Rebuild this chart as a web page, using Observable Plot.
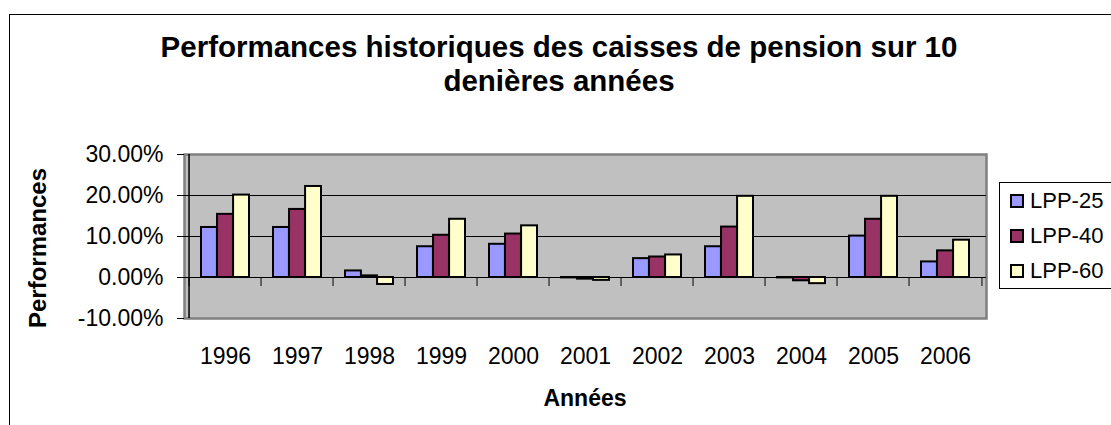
<!DOCTYPE html>
<html><head><meta charset="utf-8">
<script src="https://cdn.jsdelivr.net/npm/d3@7"></script>
<script src="https://cdn.jsdelivr.net/npm/@observablehq/plot@0.6"></script>
<style>
body{margin:0;background:#fff;font-family:"Liberation Sans",Arial,sans-serif;color:#000;}
#wrap{position:relative;width:1111px;height:425px;overflow:hidden;}
#border{position:absolute;left:9px;top:14px;width:1200px;height:500px;border:1px solid #000;}
#title{position:absolute;left:9px;width:1100px;top:30px;text-align:center;font-weight:bold;font-size:29.5px;line-height:34px;}
#chart{position:absolute;left:0;top:0;}
#ylabel{position:absolute;left:38px;top:248px;transform:translate(-50%,-50%) rotate(-90deg);font-weight:bold;font-size:24px;white-space:nowrap;line-height:24px;}
#xlabel{position:absolute;left:385px;width:400px;top:387px;text-align:center;font-weight:bold;font-size:23px;line-height:23px;}
#legend{position:absolute;left:999px;top:182px;width:130px;height:105px;border:1px solid #000;background:#fff;}
.row{position:absolute;left:0;height:35px;line-height:35px;font-size:22px;white-space:nowrap;}
.sw{position:absolute;left:10px;top:11px;width:10px;height:10px;border:2px solid #000;}
.lt{position:absolute;left:30px;top:0;}
</style></head><body>
<div id="wrap">
<div id="border"></div>
<div id="title">Performances historiques des caisses de pension sur 10<br>denières années</div>
<div id="chart"></div>
<div id="ylabel">Performances</div>
<div id="xlabel">Années</div>
<div id="legend"></div>
</div>
<script>
const years = ["1996","1997","1998","1999","2000","2001","2002","2003","2004","2005","2006"];
const series = ["LPP-25","LPP-40","LPP-60"];
const lpp25 = [0.122, 0.122, 0.016, 0.075, 0.081, -0.001, 0.046, 0.075, -0.001, 0.101, 0.038];
const lpp40 = [0.154, 0.166, 0.004, 0.103, 0.106, -0.004, 0.050, 0.123, -0.008, 0.142, 0.065];
const lpp60 = [0.201, 0.222, -0.017, 0.142, 0.126, -0.007, 0.055, 0.198, -0.015, 0.198, 0.091];
const colors = ["#9999ff","#993366","#ffffcc"];
const yTicks = [-0.1, 0, 0.1, 0.2, 0.3];

const values = [lpp25, lpp40, lpp60];
const rows = years.flatMap((y,i)=>series.map((s,j)=>({year:y, series:s, value:values[j][i]})));

const W=1111, H=425, mL=184, mR=125, mT=154, mB=107;
const pin=0.34, pout=0.17;
const step=(W-mL-mR)/(years.length - pin + 2*pout);
const bw=step*(1-pin), third=bw/3;

const bars = series.map((s,j)=>Plot.barY(rows.filter(d=>d.series===s), {
  x:"year", y:"value", fill:"series", stroke:"#000", strokeWidth:2,
  insetLeft:j*third, insetRight:(2-j)*third
}));

const chart = Plot.plot({
  width:W, height:H, marginLeft:mL, marginRight:mR, marginTop:mT, marginBottom:mB,
  style:{fontFamily:"Liberation Sans, Arial, sans-serif", fontSize:"23px", color:"#000", background:"transparent", overflow:"visible"},
  x:{type:"band", domain:years, paddingInner:pin, paddingOuter:pout},
  y:{domain:[-0.1,0.3]},
  color:{domain:series, range:colors},
  marks:[
    Plot.frame({fill:"#c0c0c0", stroke:"#808080", strokeWidth:2.5}),
    Plot.ruleY([0.1,0.2], {stroke:"#000", strokeWidth:1}),
    ...bars,
    Plot.ruleY([0], {stroke:"#000", strokeWidth:1}),
    Plot.ruleX(years, {x:d=>d, y1:0, y2:-0.022, dx:-step/2, stroke:"#000", strokeWidth:1}),
    Plot.ruleX([years[years.length-1]], {x:d=>d, y1:0, y2:-0.022, dx:step/2, stroke:"#000", strokeWidth:1}),
    Plot.ruleX([years[0]], {x:d=>d, y1:-0.1, y2:0.3, dx:-step/2, stroke:"#000", strokeWidth:1.5}),
    Plot.axisY({ticks:yTicks, tickFormat:d=>(d*100).toFixed(2)+"%", tickSize:7, tickPadding:14, label:null}),
    Plot.axisX({tickSize:0, tickPadding:29, label:null})
  ]
});
document.getElementById("chart").appendChild(chart);

const leg = document.getElementById("legend");
series.forEach((s,j)=>{
  const r = document.createElement("div");
  r.className="row"; r.style.top=(j*35)+"px";
  const sw = document.createElement("div"); sw.className="sw"; sw.style.background=colors[j];
  const t = document.createElement("div"); t.className="lt"; t.textContent=s;
  r.appendChild(sw); r.appendChild(t); leg.appendChild(r);
});
</script>
</body></html>
